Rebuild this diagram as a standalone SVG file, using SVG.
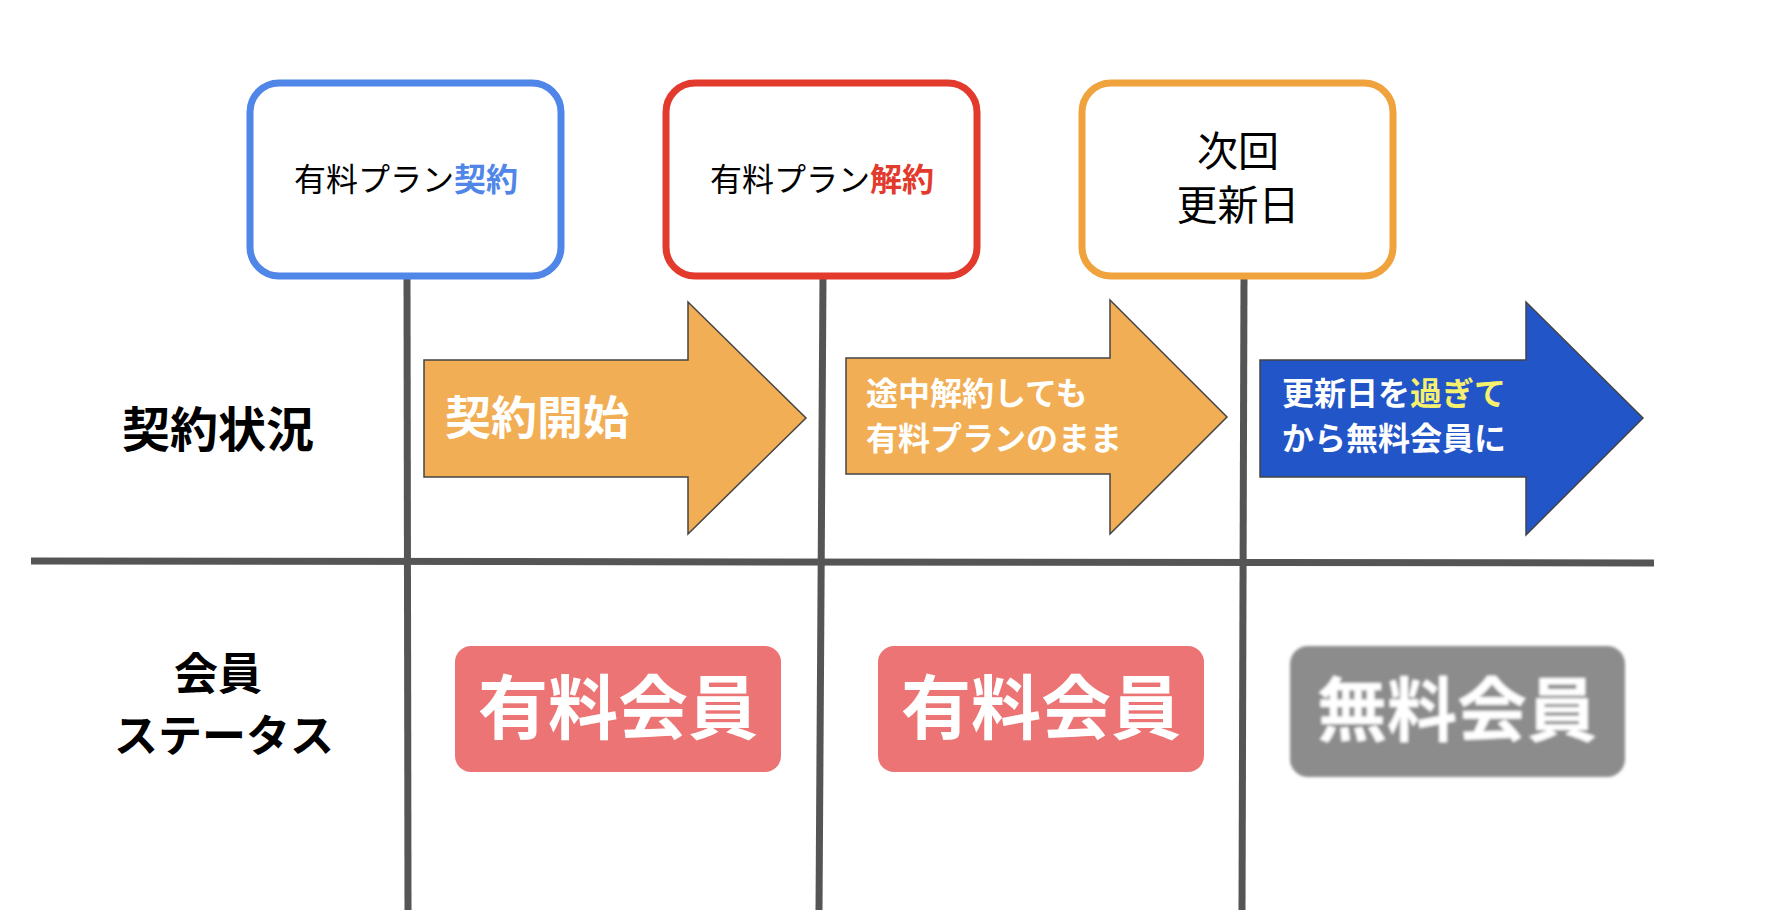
<svg xmlns="http://www.w3.org/2000/svg" width="1792" height="910" viewBox="0 0 1792 910">
<style>
text{font-family:"Noto Sans CJK JP","Noto Sans",sans-serif}
.box{fill:#fff;stroke-width:7}
.ln{stroke:#555;stroke-width:7;fill:none}
.arr{stroke:#444;stroke-width:1.5}
.w{fill:#fff;font-weight:bold}
.bt{fill:#fff;font-weight:bold;font-size:70px;text-anchor:middle}
</style>
<defs><filter id="bl"><feGaussianBlur stdDeviation="1.5"/></filter></defs>
<rect width="1792" height="910" fill="#fff"/>
<g id="connectors">
<line class="ln" x1="407" y1="276" x2="408" y2="910"/>
<line class="ln" x1="823" y1="276" x2="819" y2="910"/>
<line class="ln" x1="1244" y1="276" x2="1242" y2="910"/>
<line class="ln" x1="31" y1="561" x2="1654" y2="563"/>
</g>
<g id="n1"><rect class="box" x="250" y="83" width="311" height="193" rx="29" stroke="#4f86e8"/>
<text x="406" y="191" font-size="32" text-anchor="middle">有料プラン<tspan fill="#4f86e8" font-weight="bold">契約</tspan></text></g>
<g id="n2"><rect class="box" x="666" y="83" width="311" height="193" rx="29" stroke="#e23a2c"/>
<text x="822" y="191" font-size="32" text-anchor="middle">有料プラン<tspan fill="#e23a2c" font-weight="bold">解約</tspan></text></g>
<g id="n3"><rect class="box" x="1082" y="83" width="311" height="193" rx="29" stroke="#f0a23c"/>
<text x="1238" y="166" font-size="41" text-anchor="middle">次回</text>
<text x="1238" y="220" font-size="41" text-anchor="middle">更新日</text></g>
<g id="rowlabels">
<text x="218" y="447" font-size="48" font-weight="bold" text-anchor="middle">契約状況</text>
<text x="218" y="690" font-size="44" font-weight="bold" text-anchor="middle">会員</text>
<text x="224" y="752" font-size="44" font-weight="bold" text-anchor="middle">ステータス</text>
</g>
<g id="a1"><polygon class="arr" fill="#f2ae55" points="424,360 688,360 688,302 806,418 688,534 688,477 424,477"/>
<text class="w" x="445" y="434" font-size="46">契約開始</text></g>
<g id="a2"><polygon class="arr" fill="#f2ae55" points="846,358 1110,358 1110,300 1227,417 1110,534 1110,474 846,474"/>
<text class="w" x="866" y="405" font-size="32">途中解約しても</text>
<text class="w" x="866" y="450" font-size="32">有料プランのまま</text></g>
<g id="a3"><polygon class="arr" fill="#2255c8" points="1260,360 1526,360 1526,302 1643,418 1526,535 1526,477 1260,477"/>
<text class="w" x="1282" y="405" font-size="32">更新日を<tspan fill="#f5f06e">過ぎて</tspan></text>
<text class="w" x="1282" y="450" font-size="32">から無料会員に</text></g>
<g id="b1"><rect x="455" y="646" width="326" height="126" rx="16" fill="#ec7474"/>
<text class="bt" x="618" y="734">有料会員</text></g>
<g id="b2"><rect x="878" y="646" width="326" height="126" rx="16" fill="#ec7474"/>
<text class="bt" x="1041" y="734">有料会員</text></g>
<g id="b3" filter="url(#bl)"><rect x="1290" y="646" width="335" height="131" rx="18" fill="#8c8c8c"/>
<text class="bt" x="1457" y="736" fill="#e4e4e4">無料会員</text></g>
</svg>
